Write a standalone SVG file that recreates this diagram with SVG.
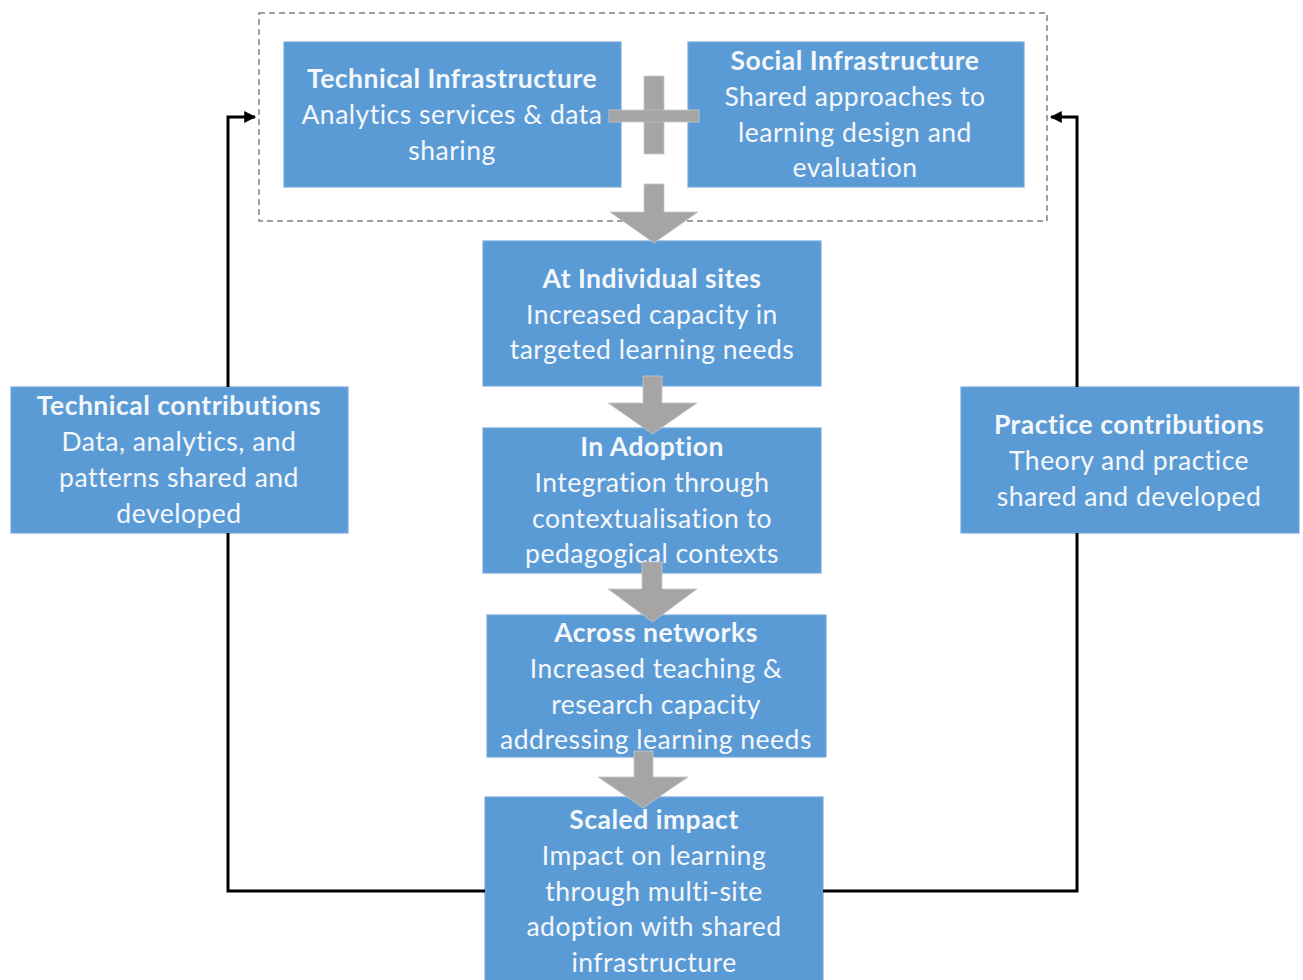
<svg xmlns="http://www.w3.org/2000/svg" width="1303" height="980" viewBox="0 0 1303 980">
<style>
.box{fill:#5b9bd5;stroke:#78aadc;stroke-width:1.2}
.t{font-family:Lato,"Open Sans","Liberation Sans",sans-serif;font-size:26.5px;letter-spacing:0.5px;fill:#f4f7fb;text-anchor:middle}
.b{font-weight:bold}
.g{fill:#a5a5a5;stroke:#c8c8c8;stroke-width:0.8}
.ln{fill:none;stroke:#000;stroke-width:3}
</style>
<defs>
<marker id="ah" viewBox="0 0 10 10" refX="9" refY="5" markerWidth="4" markerHeight="4" orient="auto" markerUnits="strokeWidth">
<path d="M0,0 L10,5 L0,10 Z" fill="#000"/>
</marker>
</defs>
<rect width="1303" height="980" fill="#fff"/>
<g id="infra-group">
<rect x="259" y="13" width="788" height="208" fill="none" stroke="#808080" stroke-width="1.5" stroke-dasharray="6 4"/>
</g>
<g id="nodes">
<g id="tech-infra">
<rect class="box" x="284" y="42" width="337" height="145"/>
<text class="t b" x="452" y="88">Technical Infrastructure</text>
<text class="t" x="452" y="124">Analytics services &amp; data</text>
<text class="t" x="452" y="160">sharing</text>
</g>
<g id="social-infra">
<rect class="box" x="688" y="42" width="336" height="145"/>
<text class="t b" x="855" y="70">Social Infrastructure</text>
<text class="t" x="855" y="106">Shared approaches to</text>
<text class="t" x="855" y="142">learning design and</text>
<text class="t" x="855" y="177">evaluation</text>
</g>
<g id="individual-sites">
<rect class="box" x="483" y="241" width="338" height="145"/>
<text class="t b" x="652" y="288">At Individual sites</text>
<text class="t" x="652" y="324">Increased capacity in</text>
<text class="t" x="652" y="359">targeted learning needs</text>
</g>
<g id="in-adoption">
<rect class="box" x="483" y="428" width="338" height="145"/>
<text class="t b" x="652" y="456">In Adoption</text>
<text class="t" x="652" y="492">Integration through</text>
<text class="t" x="652" y="528">contextualisation to</text>
<text class="t" x="652" y="563">pedagogical contexts</text>
</g>
<g id="across-networks">
<rect class="box" x="487" y="615" width="339" height="142"/>
<text class="t b" x="656" y="642">Across networks</text>
<text class="t" x="656" y="678">Increased teaching &amp;</text>
<text class="t" x="656" y="714">research capacity</text>
<text class="t" x="656" y="749">addressing learning needs</text>
</g>
<g id="scaled-impact">
<rect class="box" x="485" y="797" width="338" height="190"/>
<text class="t b" x="654" y="829">Scaled impact</text>
<text class="t" x="654" y="865">Impact on learning</text>
<text class="t" x="654" y="901">through multi-site</text>
<text class="t" x="654" y="936">adoption with shared</text>
<text class="t" x="654" y="972">infrastructure</text>
</g>
<g id="technical-contributions">
<rect class="box" x="11" y="387" width="337" height="146"/>
<text class="t b" x="179" y="415">Technical contributions</text>
<text class="t" x="179" y="451">Data, analytics, and</text>
<text class="t" x="179" y="487">patterns shared and</text>
<text class="t" x="179" y="523">developed</text>
</g>
<g id="practice-contributions">
<rect class="box" x="961" y="387" width="338" height="146"/>
<text class="t b" x="1129" y="434">Practice contributions</text>
<text class="t" x="1129" y="470">Theory and practice</text>
<text class="t" x="1129" y="506">shared and developed</text>
</g>
</g>
<g id="connectors">
<g id="plus">
<rect class="g" x="644" y="76" width="20" height="78"/>
<rect class="g" x="609" y="110" width="90" height="12"/>
<rect x="645" y="110.5" width="18" height="11" fill="#a5a5a5"/>
</g>
<path class="g" d="M644,184 H664 V212 H698 L654,243 L610,212 H644 Z"/>
<path class="g" d="M643,376 H662 V403 H697 L652.5,434 L608,403 H643 Z"/>
<path class="g" d="M642,562 H662 V589 H697 L652.5,622 L608,589 H642 Z"/>
<path class="g" d="M634,751 H653 V777 H688 L643,808 L598,777 H634 Z"/>
<path class="ln" d="M228,387 V117 H255" marker-end="url(#ah)"/>
<path class="ln" d="M228,533 V891 H485"/>
<path class="ln" d="M1077,387 V117 H1051" marker-end="url(#ah)"/>
<path class="ln" d="M1077,533 V891 H823"/>
</g>
</svg>
